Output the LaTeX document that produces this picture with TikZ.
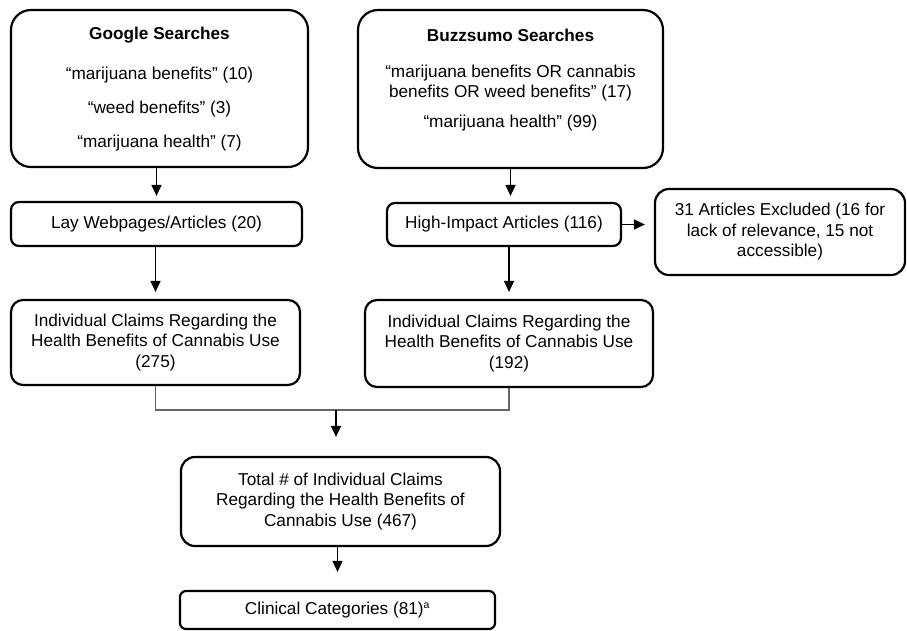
\documentclass[tikz,border=0pt]{standalone}
\usepackage{fontspec}
\setmainfont{Liberation Sans}
\usetikzlibrary{arrows.meta}

\begin{document}
\begin{tikzpicture}[x=1pt, y=-1pt,
    every node/.style={font=\fontsize{17.2}{20.5}\selectfont},
    box/.style={draw, line width=2.2pt, align=center, inner sep=0pt},
    arr/.style={line width=1.7pt, -{Triangle[length=11pt,width=10pt]}},
    joinline/.style={line width=1.5pt, draw=black!60}]

    % Fix the page to the size of the picture
    \useasboundingbox (0,0) rectangle (907,630);

    % Define the corner radii
    \def\bigr{20pt}
    \def\smallr{8pt}

    % The two search boxes, text placed on its own
    \node[box, rounded corners=\bigr, minimum width=297pt, minimum height=157pt] (google) at (159.5,88.5) {};
    \node[align=center] (googletxt) at (159.5,89)
        {\textbf{Google Searches}\\[19.5pt] “marijuana benefits” (10)\\[14pt] “weed benefits” (3)\\[13pt] “marijuana health” (7)};
    \node[box, rounded corners=\bigr, minimum width=305pt, minimum height=158pt] (buzz) at (510.5,89) {};
    \node[align=center] (buzztxt) at (510.5,80)
        {\textbf{Buzzsumo Searches}\\[15.5pt] “marijuana benefits OR cannabis\\benefits OR weed benefits” (17)\\[9.5pt] “marijuana health” (99)};

    % Articles found
    \node[box, rounded corners=\smallr, minimum width=291pt, minimum height=44pt] (lay) at (156.5,224) {Lay Webpages/Articles (20)};
    \node[box, rounded corners=\smallr, minimum width=234pt, minimum height=43pt] (high) at (504,224.5) {High-Impact Articles (116)};
    \node[box, rounded corners=14pt, minimum width=250pt, minimum height=86pt] (excl) at (780,232)
        {31 Articles Excluded (16 for\\lack of relevance, 15 not\\accessible)};

    % Claims
    \node[box, rounded corners=12pt, minimum width=289pt, minimum height=85pt] (claimsA) at (155.5,342.5)
        {Individual Claims Regarding the\\Health Benefits of Cannabis Use\\(275)};
    \node[box, rounded corners=12pt, minimum width=288pt, minimum height=87pt] (claimsB) at (509,343.5)
        {Individual Claims Regarding the\\Health Benefits of Cannabis Use\\(192)};
    \node[box, rounded corners=14pt, minimum width=319pt, minimum height=89pt] (total) at (340.5,501.5)
        {Total \# of Individual Claims\\Regarding the Health Benefits of\\Cannabis Use (467)};
    \node[box, rounded corners=6pt, minimum width=315pt, minimum height=38pt] (clin) at (337.5,610)
        {Clinical Categories (81)\textsuperscript{\fontsize{10.5}{10.5}\selectfont a}};

    % Arrows
    \draw[arr, shorten >=5pt] (google.south -| lay) -- (lay.north);
    \draw[arr, shorten >=6pt] (buzz.south) -- (buzz.south |- high.north);
    \draw[arr, shorten >=9pt] (high.east) -- (excl.west |- high.east);
    \draw[arr, shorten >=7pt] (lay.south -| claimsA) -- (claimsA.north);
    \draw[arr, shorten >=7pt] (high.south -| claimsB) -- (claimsB.north);

    % Merge the two branches
    \coordinate (merge) at (336,410);
    \draw[joinline] (claimsA.south) -- (claimsA.south |- merge) -- (claimsB.south |- merge) -- (claimsB.south);
    \draw[arr, shorten >=19pt] (merge) -- (merge |- total.north);
    \draw[arr, shorten >=18pt] (total.south -| clin) -- (clin.north);

\end{tikzpicture}
\end{document}
